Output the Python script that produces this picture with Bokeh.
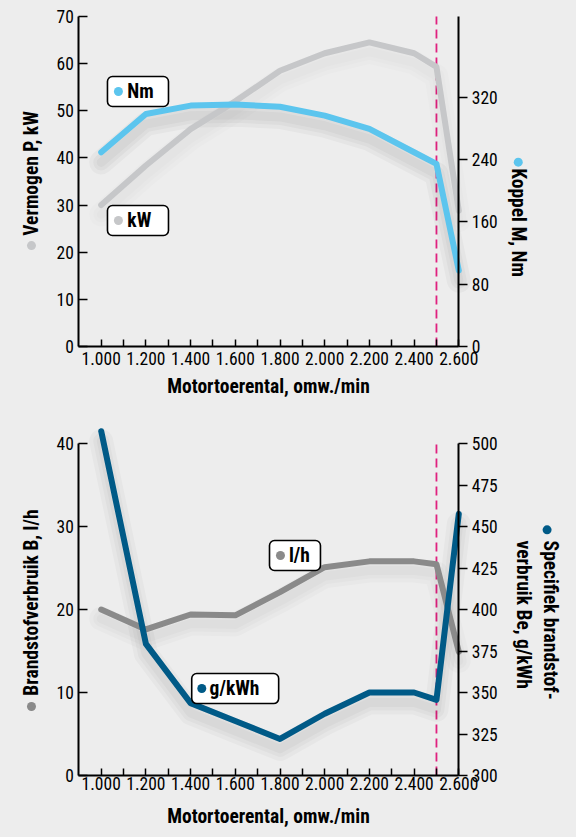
import math
from bokeh.plotting import figure
from bokeh.models import Range1d, LinearAxis, FixedTicker
from bokeh.layouts import column
from bokeh.embed import file_html
from bokeh.resources import INLINE
from bokeh.core.properties import value

# ---------------- data ----------------
rpm = [1000, 1200, 1400, 1600, 1800, 2000, 2200, 2400, 2500, 2600]
power_kw = [30.0, 38.4, 46.1, 52.0, 58.5, 62.2, 64.5, 62.2, 59.3, 28.8]
torque_nm = [249.5, 298.8, 309.5, 310.8, 308.0, 296.6, 279.5, 249.6, 234.6, 97.6]
fuel_lh = [20.0, 17.6, 19.4, 19.3, 22.1, 25.1, 25.8, 25.8, 25.45, 14.9]
spec_gkwh = [507.4, 379.3, 343.6, 332.8, 322.0, 337.2, 350.0, 350.0, 345.6, 457.6]
rated_rpm = [2500]

x_ticks = [1000, 1100, 1200, 1300, 1400, 1500, 1600, 1700, 1800,
           1900, 2000, 2100, 2200, 2300, 2400, 2500, 2600]
x_tick_labels = ["1.000", "", "1.200", "", "1.400", "", "1.600", "", "1.800",
                 "", "2.000", "", "2.200", "", "2.400", "", "2.600"]
kw_ticks = [0, 10, 20, 30, 40, 50, 60, 70]
nm_ticks = [0, 80, 160, 240, 320]
lh_ticks = [0, 10, 20, 30, 40]
gkwh_ticks = [300, 325, 350, 375, 400, 425, 450, 475, 500]

# axis extents
X_MIN, X_MAX = 900, 2600
KW_MAX, NM_MAX = 70, 424
LH_MAX, GK_MIN, GK_MAX = 40, 300, 500

# ---------------- style ----------------
BG = "#EDEDED"
FONT = "'Roboto Condensed', 'Liberation Sans Narrow', 'DejaVu Sans Condensed', Roboto, sans-serif"
C_KW = "#C6C7C9"
C_NM = "#5CC5EE"
C_LH = "#8A8A8A"
C_GK = "#005A87"
C_DASH = "#E0217F"
TICK_SIZE = "17.5px"
TITLE_SIZE = "19.5px"

# visible window: the frame covers the whole canvas; axes sit at fixed locations
X_VIEW = (549.4, 3126.6)


def make_fig(height, y_view):
    p = figure(width=576, height=height, x_range=Range1d(*X_VIEW),
               y_range=Range1d(*y_view), x_axis_location=None,
               y_axis_location=None, output_backend="svg",
               toolbar_location=None, min_border=0,
               background_fill_color=BG, border_fill_color=BG,
               outline_line_color=None)
    p.grid.visible = False
    return p


def text_style(ax):
    ax.major_label_text_font = FONT
    ax.major_label_text_font_size = TICK_SIZE
    ax.major_label_text_color = "black"
    ax.axis_line_width = 2
    ax.axis_line_color = "black"
    ax.major_tick_line_width = 1.5
    ax.major_tick_line_color = "black"
    ax.minor_tick_line_color = None


def add_x_axis(p, label_standoff, title_standoff):
    xa = LinearAxis(fixed_location=0, bounds=(X_MIN, X_MAX),
                    ticker=FixedTicker(ticks=x_ticks, minor_ticks=[]))
    text_style(xa)
    xa.major_label_overrides = {t: l for t, l in zip(x_ticks, x_tick_labels)}
    xa.major_tick_in = 7
    xa.major_tick_out = 0
    xa.major_label_standoff = label_standoff
    xa.axis_label = "Motortoerental, omw./min"
    xa.axis_label_text_font = FONT
    xa.axis_label_text_font_style = "bold"
    xa.axis_label_text_font_size = TITLE_SIZE
    xa.axis_label_text_color = "black"
    xa.axis_label_standoff = title_standoff
    p.add_layout(xa, "below")


def add_y_axis(p, ticks, side, bounds, range_name=None):
    kw = {}
    if range_name:
        kw["y_range_name"] = range_name
    loc = X_MIN if side == "left" else X_MAX
    ax = LinearAxis(fixed_location=loc, bounds=bounds,
                    ticker=FixedTicker(ticks=ticks, minor_ticks=[]), **kw)
    text_style(ax)
    if side == "left":
        ax.major_tick_in = 9
        ax.major_tick_out = 0
        ax.major_label_standoff = 5
    else:
        ax.major_tick_in = 0
        ax.major_tick_out = 9
        ax.major_label_standoff = 4
    p.add_layout(ax, side)


def shadow(p, x, y, off, alpha=0.03, **kw):
    ys = [v - off for v in y]
    for w in (24, 16, 9):
        p.line(x, ys, line_width=w, line_color="black", line_alpha=alpha,
               line_cap="round", line_join="round", **kw)


def legend_box(p, left, right, top, bottom, dot_x, text_x, mid, color, text):
    p.quad(left=[left], right=[right], top=[top], bottom=[bottom],
           fill_color="white", line_color="black", line_width=1.6,
           border_radius=5)
    p.scatter([dot_x], [mid], size=9, fill_color=color, line_color=None)
    p.text([text_x], [mid], text=[text], text_font=value(FONT),
           text_font_style="bold", text_font_size=TITLE_SIZE,
           text_baseline="middle", text_align="left", text_color="black")


def title(p, x, y, text, angle, align="center"):
    p.text([x], [y], text=[text], angle=angle, text_align=align,
           text_baseline="middle", text_font=value(FONT),
           text_font_style="bold", text_font_size=TITLE_SIZE,
           text_color="black", text_line_height=1.15)


def dot(p, x, y, color):
    p.scatter([x], [y], size=9, fill_color=color, line_color=None)


# ---------------- top chart ----------------
KW_VIEW = (-12.30, 73.39)
NM_PER_KW = NM_MAX / KW_MAX
p1 = make_fig(404, KW_VIEW)
p1.extra_y_ranges = {"nm": Range1d(KW_VIEW[0] * NM_PER_KW, KW_VIEW[1] * NM_PER_KW)}
add_x_axis(p1, 5, 7)
add_y_axis(p1, kw_ticks, "left", (0, KW_MAX))
add_y_axis(p1, nm_ticks, "right", (0, NM_MAX), "nm")

p1.segment(x0=rated_rpm, y0=[0], x1=rated_rpm, y1=[KW_MAX], line_color=C_DASH,
           line_width=1.8, line_dash="9 5")
shadow(p1, rpm, power_kw, 2.0, alpha=0.012)
shadow(p1, rpm, torque_nm, 13.0, y_range_name="nm")
p1.line(rpm, power_kw, line_width=6, line_color=C_KW, line_cap="round",
        line_join="round")
p1.line(rpm, torque_nm, line_width=6, line_color=C_NM, line_cap="round",
        line_join="round", y_range_name="nm")

legend_box(p1, 1028, 1301, 57.27, 50.91, 1077, 1117, 54.09, C_NM, "Nm")
legend_box(p1, 1028, 1301, 29.91, 23.55, 1077, 1117, 26.73, C_KW, "kW")

title(p1, 690, 36.7, "Vermogen P, kW", math.pi / 2)
dot(p1, 688, 21.4, C_KW)
title(p1, 2865, 26.3, "Koppel M, Nm", -math.pi / 2)
dot(p1, 2866, 39.1, C_NM)

# ---------------- bottom chart ----------------
LH_VIEW = (-7.47, 44.70)
GK_PER_LH = (GK_MAX - GK_MIN) / LH_MAX
p2 = make_fig(433, LH_VIEW)
p2.extra_y_ranges = {"gk": Range1d(GK_MIN + LH_VIEW[0] * GK_PER_LH,
                                   GK_MIN + LH_VIEW[1] * GK_PER_LH)}
add_x_axis(p2, 1, 12)
add_y_axis(p2, lh_ticks, "left", (0, LH_MAX))
add_y_axis(p2, gkwh_ticks, "right", (GK_MIN, GK_MAX), "gk")

p2.segment(x0=rated_rpm, y0=[0], x1=rated_rpm, y1=[LH_MAX], line_color=C_DASH,
           line_width=1.8, line_dash="9 5")
shadow(p2, rpm, fuel_lh, 1.1, alpha=0.018)
shadow(p2, rpm, spec_gkwh, 6.0, alpha=0.026, y_range_name="gk")
p2.line(rpm, fuel_lh, line_width=6, line_color=C_LH, line_cap="round",
        line_join="round")
p2.line(rpm, spec_gkwh, line_width=6, line_color=C_GK, line_cap="round",
        line_join="round", y_range_name="gk")

legend_box(p2, 1753, 1981, 28.31, 24.70, 1802, 1840, 26.51, C_LH, "l/h")
legend_box(p2, 1405, 1794, 12.29, 8.67, 1450, 1485, 10.48, C_GK, "g/kWh")

title(p2, 690, 20.84, "Brandstofverbruik B, l/h", math.pi / 2)
dot(p2, 688, 8.31, C_LH)
title(p2, 2949, 28.3, "Specifiek brandstof-\nverbruik Be, g/kWh",
      -math.pi / 2, align="left")
dot(p2, 2995, 29.6, C_GK)

layout = column(p1, p2, spacing=0, styles={"background-color": BG})
html = file_html(layout, INLINE)
html = html.replace("<head>", "<head><style>html,body{background:%s;margin:0;overflow:hidden;}</style>" % BG, 1)
open("out.html", "w").write(html)
